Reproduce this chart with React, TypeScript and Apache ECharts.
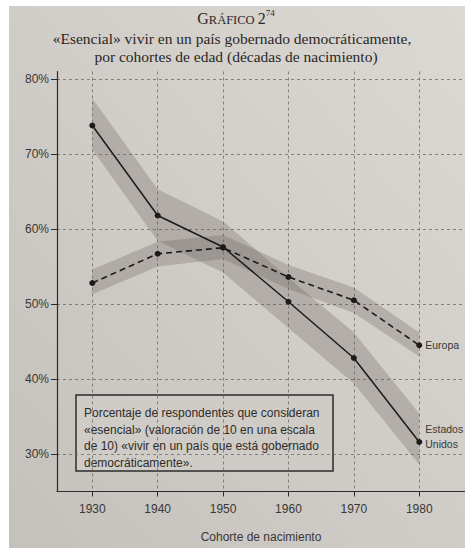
import React, { useEffect, useRef } from "react";
import * as echarts from "echarts";

const years = [1930, 1940, 1950, 1960, 1970, 1980];
const usValues = [73.8, 61.8, 57.6, 50.3, 42.8, 31.6];
const euValues = [52.8, 56.7, 57.5, 53.6, 50.5, 44.5];
const usLow = [70.6, 58.4, 54.2, 46.8, 39.4, 28.6];
const usHigh = [77.4, 65.3, 61.0, 53.5, 46.2, 35.4];
const euLow = [51.3, 55.0, 56.0, 52.0, 48.8, 43.0];
const euHigh = [54.6, 58.3, 59.2, 55.2, 52.2, 46.2];
const yTicks = [30, 40, 50, 60, 70, 80];

const titleLine2 = "«Esencial» vivir en un país gobernado democráticamente,";
const titleLine3 = "por cohortes de edad (décadas de nacimiento)";
const noteLines = [
  "Porcentaje de respondentes que consideran",
  "«esencial» (valoración de 10 en una escala",
  "de 10) «vivir en un país que está gobernado",
  "democráticamente».",
];

const SANS = "'Liberation Sans', Arial, sans-serif";
const SERIF = "'Liberation Serif', 'Times New Roman', serif";
const INK = "#2a2826";

function bandSeries(name: string, low: number[], high: number[], fill: string) {
  return {
    type: "custom",
    name,
    silent: true,
    z: 1,
    data: years.map((y, i) => [y, low[i], high[i]]),
    encode: { x: 0, y: [1, 2] },
    renderItem: (params: any, api: any) => {
      if (params.dataIndex !== 0) return null;
      const top = years.map((y, i) => api.coord([y, high[i]]));
      const bot = years.map((y, i) => api.coord([y, low[i]])).reverse();
      return {
        type: "polygon",
        shape: { points: top.concat(bot) },
        style: { fill },
      };
    },
  };
}

export default function App() {
  const ref = useRef<HTMLDivElement>(null);
  useEffect(() => {
    if (!ref.current) return;
    const chart = echarts.init(ref.current, null, { renderer: "svg" });
    const lastIdx = years.length - 1;
    const endLabel = {
      show: true,
      position: "right",
      distance: 3,
      color: "#3a3836",
      fontSize: 10.5,
      fontFamily: SANS,
    };
    chart.setOption({
      animation: false,
      backgroundColor: {
        type: "linear",
        x: 1,
        y: 0,
        x2: 0,
        y2: 1,
        colorStops: [
          { offset: 0, color: "#dcd8d3" },
          { offset: 1, color: "#c4c0bb" },
        ],
      },
      grid: { left: 57, right: 0, top: 71.5, bottom: 56.5 },
      xAxis: {
        type: "value",
        min: 1924.6,
        max: 1987,
        name: "Cohorte de nacimiento",
        nameLocation: "middle",
        nameGap: 39,
        nameTextStyle: { color: "#3a3836", fontSize: 12, fontFamily: SANS },
        axisLine: { onZero: false, lineStyle: { color: "#2e2c2a", width: 1.2 } },
        axisTick: { show: true, customValues: years, length: 5, lineStyle: { color: "#2e2c2a" } },
        axisLabel: {
          customValues: years,
          color: "#3a3836",
          fontSize: 12,
          fontFamily: SANS,
          margin: 11,
          formatter: (v: number) => String(v),
        },
        splitLine: { show: true, lineStyle: { color: "#6e6b68", width: 0.8, type: [3, 3] } },
      },
      yAxis: {
        type: "value",
        min: 25,
        max: 81,
        axisLine: { show: true, onZero: false, lineStyle: { color: "#2e2c2a", width: 1.2 } },
        axisTick: { show: true, customValues: yTicks, length: 6, lineStyle: { color: "#2e2c2a" } },
        axisLabel: {
          customValues: yTicks,
          color: "#3a3836",
          fontSize: 12,
          fontFamily: SANS,
          margin: 8,
          formatter: (v: number) => v + "%",
        },
        splitLine: { show: true, lineStyle: { color: "#6e6b68", width: 0.8, type: [3, 3] } },
      },
      series: [
        bandSeries("bandaEE", usLow, usHigh, "rgba(100,95,90,0.28)"),
        bandSeries("bandaEU", euLow, euHigh, "rgba(100,95,90,0.28)"),
        {
          type: "line",
          name: "Europa",
          z: 3,
          symbol: "circle",
          symbolSize: 6,
          itemStyle: { color: "#1c1b1a" },
          lineStyle: { color: "#1c1b1a", width: 1.6, type: [6, 4] },
          data: years.map((y, i) =>
            i === lastIdx
              ? { value: [y, euValues[i]], label: { ...endLabel, formatter: "Europa" } }
              : [y, euValues[i]]
          ),
        },
        {
          type: "line",
          name: "Estados Unidos",
          z: 3,
          symbol: "circle",
          symbolSize: 6,
          itemStyle: { color: "#1c1b1a" },
          lineStyle: { color: "#1c1b1a", width: 1.5 },
          data: years.map((y, i) =>
            i === lastIdx
              ? {
                  value: [y, usValues[i]],
                  label: {
                    ...endLabel,
                    formatter: "Estados\nUnidos",
                    offset: [0, -6],
                    lineHeight: 15,
                  },
                }
              : [y, usValues[i]]
          ),
        },
      ],
      graphic: [
        { type: "rect", left: 0, top: 0, shape: { width: 465, height: 6 }, style: { fill: "#ffffff" }, z: 100 },
        { type: "rect", left: 0, top: 0, shape: { width: 9, height: 548 }, style: { fill: "#ffffff" }, z: 100 },
        {
          type: "text",
          x: 236,
          y: 17,
          z: 10,
          style: {
            text: "{b|G}{s|RÁFICO }{b|2}{sup|74}",
            textAlign: "center",
            textVerticalAlign: "middle",
            fill: INK,
            rich: {
              b: { fontSize: 16, fontFamily: SERIF, fill: INK, verticalAlign: "bottom", lineHeight: 18 },
              s: { fontSize: 12.5, fontFamily: SERIF, fill: INK, verticalAlign: "bottom", lineHeight: 18 },
              sup: { fontSize: 9, fontFamily: SERIF, fill: INK, verticalAlign: "top", lineHeight: 18 },
            },
          },
        },
        {
          type: "text",
          x: 232,
          y: 38,
          z: 10,
          style: {
            text: titleLine2,
            textAlign: "center",
            textVerticalAlign: "middle",
            fontSize: 15.5,
            fontFamily: SERIF,
            fill: INK,
          },
        },
        {
          type: "text",
          x: 236,
          y: 56,
          z: 10,
          style: {
            text: titleLine3,
            textAlign: "center",
            textVerticalAlign: "middle",
            fontSize: 15.5,
            fontFamily: SERIF,
            fill: INK,
          },
        },
        {
          type: "group",
          z: 20,
          children: [
            {
              type: "rect",
              shape: { x: 76, y: 395, width: 257, height: 76 },
              style: { fill: "#cfcbc6", stroke: "#2e2c2a", lineWidth: 1.5 },
            },
            ...noteLines.map((t, i) => ({
              type: "text",
              x: 84,
              y: 413 + i * 16.5,
              style: {
                text: t,
                fontSize: 12,
                fontFamily: SANS,
                fill: "#2e2c2a",
                textVerticalAlign: "middle",
              },
            })),
          ],
        },
      ],
    });
    return () => chart.dispose();
  }, []);
  return (
    <div
      ref={ref}
      style={{ position: "fixed", left: 0, top: 0, width: 465, height: 548 }}
    />
  );
}
